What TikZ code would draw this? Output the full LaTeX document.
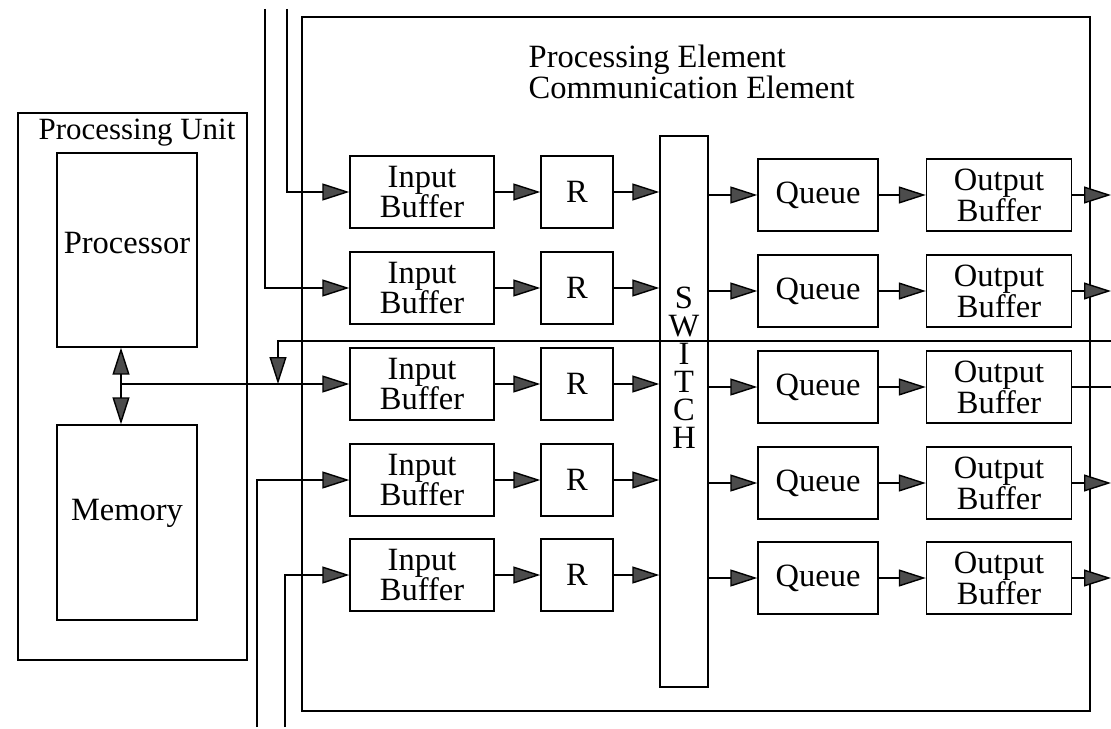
\documentclass[tikz,border=0pt]{standalone}
\usepackage{fontspec}
\setmainfont{Liberation Serif}
\usetikzlibrary{arrows.meta, positioning, calc}

\begin{document}
\begin{tikzpicture}[x=0.02cm, y=-0.02cm, line width=0.8pt,
	font=\fontsize{18.5}{17.6}\selectfont,
	box/.style={draw, rectangle, inner sep=0pt, align=center},
	lbl/.style={inner sep=0pt},
	tri/.style={-{Triangle[length=0.54cm, width=0.34cm, fill=black!70]}}]
	\useasboundingbox (0,0) rectangle (1111,729);

	% processing unit
	\node[box, minimum width=4.58cm, minimum height=10.94cm] (pu) at (132.5,386.5) {};
	\node[lbl, anchor=base west, font=\fontsize{17.6}{17.6}\selectfont] (pulabel) at (38,140) {Processing Unit};
	\node[box, minimum width=2.8cm, minimum height=3.88cm] (pr) at (127,250) {};
	\node[lbl] (prlabel) at (127,243) {Processor};
	\node[box, minimum width=2.8cm, minimum height=3.9cm] (mem) at (127,522.5) {};
	\node[lbl] (memlabel) at (127,513) {Memory};
	\coordinate (bus) at (121,384);
	\draw[tri] (bus) -- (bus |- pr.south);
	\draw[tri] (bus) -- (bus |- mem.north);

	% processing element
	\node[box, minimum width=15.76cm, minimum height=13.88cm] (pe) at (696,364) {};
	\node[lbl, anchor=base west] (petitle) at (528,68) {Processing Element};
	\node[lbl, anchor=base west] (cetitle) at (528,99) {Communication Element};

	\node[box, minimum width=0.96cm, minimum height=11.02cm] (sw) at (684,411.5) {};
	\foreach \l [count=\k] in {S,W,I,T,C,H}
		\node[lbl] (sw\k) at (684,270+28*\k) {\l};

	\foreach \i/\y in {1/192, 2/288, 3/384, 4/480, 5/575}{
		\node[box, minimum width=2.88cm, minimum height=1.44cm] (ib\i) at (422,\y) {Input\\Buffer};
		\node[box, minimum width=1.44cm, minimum height=1.44cm] (r\i) at (577,\y) {R};
		\node[box, minimum width=2.4cm, minimum height=1.44cm] (q\i) at (818,\y+3) {Queue};
		\node[box, minimum width=2.9cm, minimum height=1.44cm] (ob\i) at (999,\y+3) {Output\\Buffer};
		\draw[tri] (ib\i) -- (r\i);
		\draw[tri] (r\i) -- (r\i -| sw.west);
		\draw[tri] (q\i -| sw.east) -- (q\i);
		\draw[tri] (q\i) -- (ob\i);
	};

	% links in and out
	\coordinate (eR) at (1111,0);
	\foreach \i in {1,2,4,5}
		\draw[tri] (ob\i) -- (ob\i -| eR);
	\draw (ob3) -- (ob3 -| eR);

	\coordinate (inA) at (265,9);
	\coordinate (inB) at (287,9);
	\coordinate (inC) at (257,727);
	\coordinate (inD) at (285,727);
	\draw[tri] (inA) |- (ib2);
	\draw[tri] (inB) |- (ib1);
	\draw[tri] (inC) |- (ib4);
	\draw[tri] (inD) |- (ib5);
	\draw[tri] (bus) -- (ib3);

	\coordinate (fbR) at (1111,341);
	\coordinate (fbL) at (278,341);
	\draw[tri] (fbR) -- (fbL) -- (fbL |- bus);
\end{tikzpicture}
\end{document}
